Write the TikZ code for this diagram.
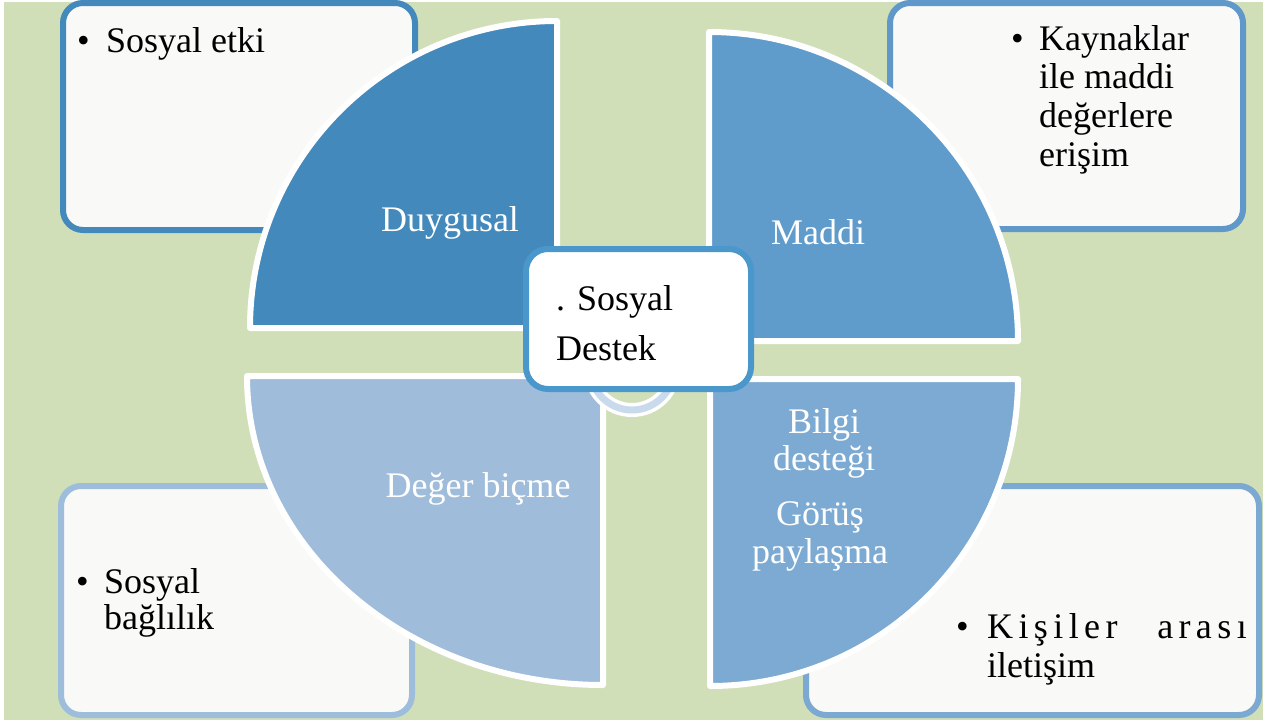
\documentclass[tikz,border=0pt]{standalone}
\usepackage{fontspec}
\setmainfont{Liberation Serif}
\newfontfamily\spacedfont{Liberation Serif}[LetterSpace=15]
\definecolor{bggreen}{HTML}{D1DFB9}
\definecolor{boxfill}{HTML}{F9F9F7}
\definecolor{qone}{HTML}{4389BC}
\definecolor{qtwo}{HTML}{5F9BCB}
\definecolor{qthree}{HTML}{9FBDDB}
\definecolor{qfour}{HTML}{7CAAD2}
\definecolor{bordtl}{HTML}{4389BC}
\definecolor{bordtr}{HTML}{6099C9}
\definecolor{bordbl}{HTML}{9DBDDB}
\definecolor{bordbr}{HTML}{7BA9D2}
\definecolor{centerbord}{HTML}{4A98CB}
\definecolor{ringblue}{HTML}{C9DAEC}
\begin{document}
\begin{tikzpicture}[x=1pt,y=1pt,
  cornerbox/.style={draw, line width=6pt, rounded corners=20pt, fill=boxfill, inner sep=0pt},
  quad/.style={draw=white, line width=6pt, line join=round},
  txt/.style={anchor=base west, inner sep=0pt, font=\fontsize{36}{38}\selectfont, text=black},
  lbl/.style={anchor=base, inner sep=0pt, font=\fontsize{36}{38}\selectfont, text=white}]
\useasboundingbox (0,0) rectangle (1263,-720);
\fill[white] (0,0) rectangle (1263,-720);
\fill[bggreen] (4,-2) rectangle (1263,-720);

% corner boxes
\node[cornerbox, draw=bordtl, minimum width=352pt, minimum height=227pt] (boxtl) at (239,-116.5) {};
\node[cornerbox, draw=bordtr, minimum width=353pt, minimum height=226pt] (boxtr) at (1066.5,-116) {};
\node[cornerbox, draw=bordbl, minimum width=351pt, minimum height=229pt] (boxbl) at (236.5,-600.5) {};
\node[cornerbox, draw=bordbr, minimum width=453pt, minimum height=229pt] (boxbr) at (1032.5,-600.5) {};

% quadrants
\path[quad, fill=qone] (557,-328) -- (250,-328) arc[start angle=180, end angle=90, radius=307pt] -- cycle;
\path[quad, fill=qtwo] (709,-341) -- (709,-32) arc[start angle=90, end angle=0, radius=309pt] -- cycle;
\path[quad, fill=qfour] (710,-379) -- (1018,-379) arc[start angle=0, end angle=-90, x radius=308pt, y radius=307pt] -- cycle;
\path[quad, fill=qthree] (603,-376) -- (603,-685) arc[start angle=270, end angle=180, x radius=356pt, y radius=309pt] -- cycle;

% ring
\draw[white, line width=14pt] (632,-368) circle[radius=42pt];
\draw[ringblue, line width=7pt] (632,-368) circle[radius=42pt];

% center box
\node[cornerbox, draw=centerbord, fill=white, rounded corners=22pt, minimum width=225pt, minimum height=140pt] (center) at (638.5,-319) {};
\node[txt] (ctxa) at (556,-310) {. Sosyal};
\node[txt] (ctxb) at (556,-360) {Destek};

% quadrant labels
\node[lbl] (lduy) at (450,-231) {Duygusal};
\node[lbl] (lmad) at (818,-244) {Maddi};
\node[lbl] (lder) at (478,-497) {Değer biçme};
\node[lbl] (lbila) at (824,-433) {Bilgi};
\node[lbl] (lbilb) at (824,-470) {desteği};
\node[lbl] (lgora) at (820,-525) {Görüş};
\node[lbl] (lgorb) at (820,-563) {paylaşma};

% corner texts
\node[txt] (btl) at (77,-52) {•};
\node[txt] (ttl) at (106,-52) {Sosyal etki};

\node[txt] (btr) at (1011,-50) {•};
\node[txt] (ttra) at (1039,-50) {Kaynaklar};
\node[txt] (ttrb) at (1039,-88) {ile maddi};
\node[txt] (ttrc) at (1039,-127) {değerlere};
\node[txt] (ttrd) at (1039,-166) {erişim};

\node[txt] (bbl) at (76,-593) {•};
\node[txt] (tbla) at (104,-593) {Sosyal};
\node[txt] (tblb) at (104,-629) {bağlılık};

\node[txt] (bbr) at (956,-638) {•};
\node[txt, font=\fontsize{36}{38}\spacedfont] (tbra) at (987,-638) {Kişiler};
\node[txt, anchor=base east, font=\fontsize{36}{38}\spacedfont] (tbrb) at (1247,-638) {arası};
\node[txt] (tbrc) at (987,-677) {iletişim};
\end{tikzpicture}
\end{document}
